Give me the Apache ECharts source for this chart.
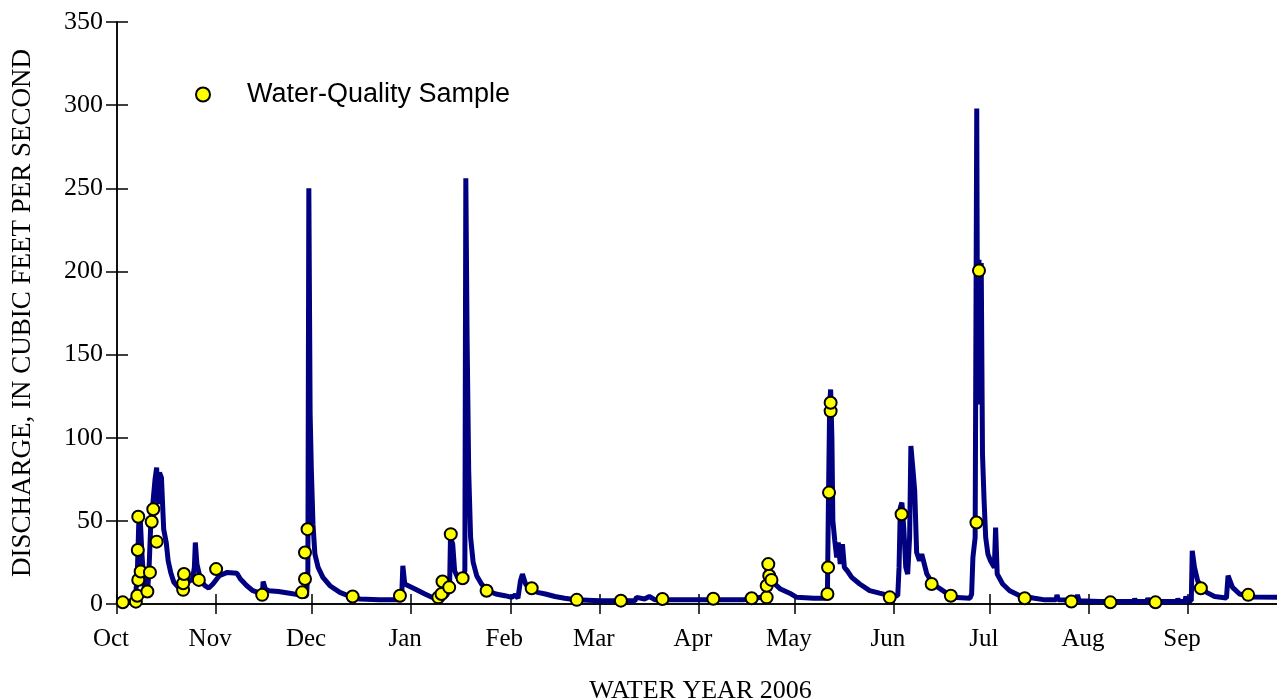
<!DOCTYPE html>
<html>
<head>
<meta charset="utf-8">
<title>Discharge, water year 2006</title>
<script src="https://cdn.jsdelivr.net/npm/echarts@6/dist/echarts.min.js"></script>
<style>
  html, body { margin: 0; padding: 0; background: #fff; }
  #main { width: 1277px; height: 700px; }
</style>
</head>
<body>
<div id="main"></div>
<script>
// x values are days since Oct 1, 2005 (start of water year 2006)
var monthStart = [0, 31, 61, 92, 123, 151, 182, 212, 243, 273, 304, 335, 365];
var monthLabels = ['Oct', 'Nov', 'Dec', 'Jan', 'Feb', 'Mar', 'Apr', 'May', 'Jun', 'Jul', 'Aug', 'Sep', ''];
var yTicks = [0, 50, 100, 150, 200, 250, 300, 350];

// streamflow record
var flowDay = [0, 3, 5.2, 5.8, 6.3, 6.8, 7.3, 7.8, 8.6, 9.5, 10.0, 10.5, 11.2, 11.9, 12.4, 12.9, 13.3, 13.9, 14.6, 15.4,
  16.0, 16.8, 17.8, 19.2, 20.5, 22.0, 23.6, 24.2, 24.5, 25.0, 26.2, 27.5, 28.7, 30.0, 32.0, 34.5, 37.5, 38.6, 40.6, 42.5,
  44.7, 45.5, 45.7, 46.4, 47.5, 50.5, 54.0, 57.0, 58.5, 59.3, 59.7, 60.0, 60.4, 60.8, 61.3, 61.9, 62.9, 64.4, 66.6, 69.7,
  72.9, 76.0, 82.0, 89.0, 89.4, 90.0, 93.2, 96.3, 98.5, 101.0, 103.0, 104.0, 104.3, 105.0, 105.6, 106.5, 108.0, 108.8, 109.1, 109.5,
  110.0, 110.6, 111.4, 112.5, 114.0, 116.0, 118.5, 121.3, 123.5, 124.5, 125.4, 126.2, 126.8, 127.8, 129.5, 131.5, 134.0, 137.0, 140.0, 143.5,
  151.0, 162.0, 162.5, 165.0, 166.5, 168.3, 182.0, 196.0, 199.5, 201.5, 202.8, 203.3, 203.8, 204.6, 205.8, 207.5, 210.4, 212.6, 218.0, 221.6,
  222.2, 222.5, 222.9, 223.2, 223.6, 223.9, 224.5, 225.1, 225.6, 226.2, 226.9, 227.5, 228.4, 229.8, 232.3, 235.4, 238.5, 241.7, 244.2, 244.6,
  245.0, 245.5, 246.1, 246.7, 247.3, 247.9, 248.3, 248.9, 249.5, 250.1, 251.0, 251.7, 253.3, 255.2, 258.3, 261.4, 266.8, 267.3, 267.7, 268.4,
  268.9, 269.2, 269.6, 270.0, 270.3, 270.7, 271.2, 271.7, 272.4, 273.2, 274.4, 274.8, 275.3, 277.0, 279.2, 282.4, 287.0, 290.2, 293.7, 294.0,
  294.4, 300.0, 300.4, 300.9, 307.4, 318.0, 318.3, 318.7, 322.1, 322.4, 322.8, 331.5, 331.8, 332.2, 334.0, 334.3, 334.7, 336.0, 336.3, 337.0,
  338.0, 339.2, 340.8, 343.3, 347.0, 347.5, 348.9, 351.1, 355.2, 365];
var flowCfs = [1.5, 1.5, 2, 6, 15, 48, 50, 30, 8, 6, 20, 45, 60, 75, 82, 60, 79, 76, 45, 37,
  26, 19, 13, 10, 11, 13, 15, 22, 37, 24, 14, 11, 9.6, 12, 17, 19, 18.5, 15, 11, 8,
  6.5, 7, 13.5, 9, 8, 7.5, 6.5, 5.5, 4.5, 5, 20, 250, 115, 80, 48, 30, 22, 16, 11, 7,
  4.5, 3, 2.5, 2.5, 23, 12, 9, 6, 4, 4, 5, 8, 40, 36, 20, 16, 15, 20, 256, 160,
  80, 40, 25, 17, 12, 8, 6, 5, 4, 5.5, 3.5, 14, 18, 12, 9, 7, 6, 4.5, 3.5, 2.5,
  2, 2, 4, 3, 4.5, 2.5, 2.5, 2.5, 3.5, 4, 6, 20, 26, 16, 12, 9, 6.5, 4, 3.5, 3.5,
  6, 60, 120, 129, 100, 50, 38, 28, 37, 24, 36, 22, 20, 16, 12, 8, 6.5, 5, 5, 22,
  58, 61, 45, 22, 18, 40, 95, 82, 68, 31, 26, 30, 18, 12, 8, 4, 3.5, 6, 28, 40,
  298, 120, 207, 160, 205, 90, 62, 40, 30, 26, 22, 46, 18, 12, 8, 5, 3.5, 2.5, 2.5, 5.5,
  2.5, 2.4, 5.5, 2, 1.5, 1.5, 3, 1.5, 1.5, 3.5, 1.5, 1.5, 3, 1.5, 1.5, 4.5, 2, 2, 32, 22,
  14, 10, 7, 4.5, 3.6, 17, 10, 6, 4.2, 4];

// water-quality samples
var sampleDay = [1.8, 5.9, 6.35, 6.65, 7.4, 6.5, 6.65, 9.5, 10.3, 10.85, 11.35, 12.4, 20.7, 20.7, 20.95, 25.6, 31.0, 45.4,
  57.9, 58.8, 58.8, 59.6, 73.7, 88.5, 100.5, 101.5, 101.8, 103.9, 104.4, 108.1, 115.6, 129.7, 143.8, 157.6, 170.6, 186.5,
  198.5, 203.2, 203.2, 204.0, 204.7, 203.7, 222.2, 222.4, 222.7, 223.2, 223.2, 241.7, 245.4, 254.8, 260.8, 268.8, 269.6,
  283.9, 298.5, 310.7, 324.8, 339.0, 353.8];
var sampleCfs = [1, 1.4, 5, 14.5, 19.5, 32.5, 52.5, 7.5, 19, 49.5, 57, 37.5, 8.5, 12.5, 18, 14.5, 21, 5.5,
  7, 15, 31, 45, 4.5, 5, 4, 6, 13.5, 10, 42, 15.5, 8, 9.5, 2.5, 2, 3, 3.2,
  3.5, 4, 11, 17, 14.5, 24, 6, 22, 67, 116, 121, 4, 54, 12, 5, 49, 200.5,
  3.5, 1.5, 1, 1, 9.5, 5.5];

var flowData = flowDay.map(function (d, i) { return [d, flowCfs[i]]; });
var sampleData = sampleDay.map(function (d, i) { return [d, sampleCfs[i]]; });

var serif = 'Liberation Serif';
var chart = echarts.init(document.getElementById('main'));

var xCommon = {
  type: 'value',
  min: 0,
  max: 365,
  splitLine: { show: false },
  axisLine: { lineStyle: { color: '#000', width: 1.5 } },
  axisTick: { inside: true, length: 10, customValues: monthStart, lineStyle: { color: '#000', width: 1.5 } }
};
var yCommon = {
  type: 'value',
  min: 0,
  max: 350,
  interval: 50,
  splitLine: { show: false },
  axisLine: { show: true, lineStyle: { color: '#000', width: 1.5 } },
  axisTick: { inside: true, length: 11, lineStyle: { color: '#000', width: 1.5 } }
};

var option = {
  animation: false,
  backgroundColor: '#fff',
  grid: { left: 117, right: -7, top: 22, bottom: 96, containLabel: false, outerBoundsMode: 'none' },
  legend: {
    data: ['Water-Quality Sample'],
    left: 190,
    top: 76,
    itemWidth: 14,
    itemHeight: 14,
    textStyle: { fontFamily: 'Liberation Sans', fontSize: 27, color: '#000', padding: [0, 0, 0, 32] }
  },
  xAxis: [
    Object.assign({}, xCommon, {
      position: 'bottom',
      name: 'WATER YEAR 2006',
      nameLocation: 'middle',
      nameGap: 74,
      nameTextStyle: { fontFamily: serif, fontSize: 26, color: '#000' },
      axisLabel: {
        customValues: monthStart.slice(0, 12),
        margin: 23,
        fontFamily: serif,
        fontSize: 25,
        color: '#000',
        padding: [0, 12, 0, 0],
        formatter: function (v) {
          var i = monthStart.indexOf(v);
          return i >= 0 ? monthLabels[i] : '';
        }
      }
    }),
    Object.assign({}, xCommon, { position: 'top', axisLabel: { show: false } })
  ],
  yAxis: [
    Object.assign({}, yCommon, {
      position: 'left',
      name: 'DISCHARGE, IN CUBIC FEET PER SECOND',
      nameLocation: 'middle',
      nameRotate: 90,
      nameGap: 81,
      nameTextStyle: { fontFamily: serif, fontSize: 27, color: '#000' },
      axisLabel: {
        margin: 14,
        fontFamily: serif,
        fontSize: 26,
        color: '#000',
        customValues: yTicks
      }
    }),
    Object.assign({}, yCommon, { position: 'right', axisLabel: { show: false } })
  ],
  series: [
    {
      name: 'Discharge',
      type: 'line',
      data: flowData,
      showSymbol: false,
      lineStyle: { color: '#000080', width: 5 },
      itemStyle: { color: '#000080' },
      z: 2
    },
    {
      name: 'Water-Quality Sample',
      type: 'scatter',
      data: sampleData,
      symbol: 'circle',
      symbolSize: 12,
      itemStyle: { color: '#ffff00', borderColor: '#000', borderWidth: 2, opacity: 1 },
      z: 3
    }
  ]
};

chart.setOption(option);
</script>
</body>
</html>
